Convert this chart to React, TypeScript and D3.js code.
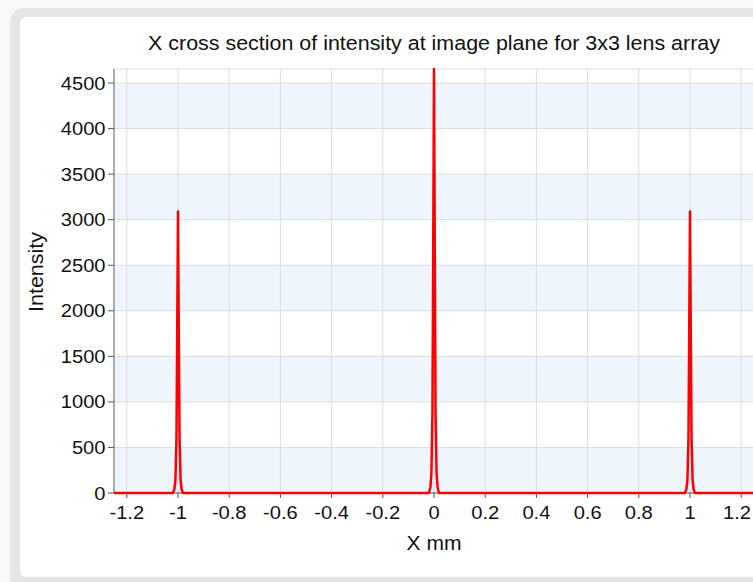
import React from 'react';
import * as d3 from 'd3';

// sampled cross section (mm, intensity)
const profileX = [
  -1.25, -1.02, -1.014, -1.01, -1.006, -1.003, -1.0, -0.997, -0.994, -0.99, -0.986, -0.98,
  -0.02, -0.014, -0.01, -0.006, -0.003, 0.0, 0.003, 0.006, 0.01, 0.014, 0.02,
  0.98, 0.986, 0.99, 0.994, 0.997, 1.0, 1.003, 1.006, 1.01, 1.014, 1.02, 1.25,
];
const profileY = [
  0, 0, 40, 150, 600, 1800, 3090, 1800, 600, 150, 40, 0,
  0, 60, 225, 900, 2700, 4654, 2700, 900, 225, 60, 0,
  0, 40, 150, 600, 1800, 3090, 1800, 600, 150, 40, 0, 0,
];

const xTickValues = [-1.2, -1, -0.8, -0.6, -0.4, -0.2, 0, 0.2, 0.4, 0.6, 0.8, 1, 1.2];
const yTickValues = [0, 500, 1000, 1500, 2000, 2500, 3000, 3500, 4000, 4500];
const xDomain = [-1.25, 1.25];
const yDomain = [0, 4654];

const titleText = 'X cross section of intensity at image plane for 3x3 lens array';
const xLabel = 'X mm';
const yLabel = 'Intensity';

const W = 753;
const H = 582;
const left = 114, right = 754, top = 69, bottom = 493;
const font = '"Liberation Sans", Arial, Helvetica, sans-serif';

export default function App() {
  const x = d3.scaleLinear().domain(xDomain).range([left, right]);
  const y = d3.scaleLinear().domain(yDomain).range([bottom, top]);
  const fmt = (v: number) => d3.format('')(v).replace('\u2212', '-');

  const line = d3.line<number>()
    .x((_, i) => x(profileX[i]))
    .y((d) => y(d));

  // alternating bands between ticks
  const bands = yTickValues.slice(0, -1).map((v, i) => ({ lo: v, hi: yTickValues[i + 1], on: i % 2 === 0 }));

  return (
    <div style={{ position: 'fixed', left: 0, top: 0 }}>
      <svg width={W} height={H} style={{ display: 'block', background: '#f7f7f7' }}>
        <rect x={10} y={8} width={780} height={600} rx={14} fill="#e5e5e5" />
        <rect x={20} y={17} width={770} height={560} rx={6} fill="#ffffff" />

        {bands.filter((b) => b.on).map((b) => (
          <rect key={b.lo} x={left} y={y(b.hi)} width={right - left} height={y(b.lo) - y(b.hi)} fill="#eef5fd" />
        ))}

        {/* grid */}
        {xTickValues.map((v) => (
          <line key={'gx' + v} x1={x(v)} x2={x(v)} y1={top} y2={bottom} stroke="#dddddd" strokeWidth={1} />
        ))}
        {yTickValues.map((v) => (
          <line key={'gy' + v} x1={left} x2={right} y1={y(v)} y2={y(v)} stroke="#dddddd" strokeWidth={1} />
        ))}
        <line x1={left} x2={right} y1={top} y2={top} stroke="#dddddd" strokeWidth={1} />

        {/* axes */}
        <line x1={left} x2={left} y1={top} y2={bottom} stroke="#777777" strokeWidth={1.2} />
        <line x1={left} x2={right} y1={bottom} y2={bottom} stroke="#555555" strokeWidth={1.2} />

        {xTickValues.map((v) => (
          <g key={'tx' + v}>
            <line x1={x(v)} x2={x(v)} y1={bottom} y2={bottom + 5} stroke="#555555" />
            <text
              transform={`translate(${Math.min(x(v), 737)},519) scale(1.15,1)`}
              textAnchor="middle"
              fontFamily={font}
              fontSize={17.5}
              fill="#111"
            >
              {fmt(v)}
            </text>
          </g>
        ))}
        {yTickValues.map((v) => (
          <g key={'ty' + v}>
            <line x1={left - 6} x2={left} y1={y(v)} y2={y(v)} stroke="#555555" />
            <text
              transform={`translate(105.5,${y(v) + 6.5}) scale(1.15,1)`}
              textAnchor="end"
              fontFamily={font}
              fontSize={17.5}
              fill="#111"
            >
              {fmt(v)}
            </text>
          </g>
        ))}

        <path d={line(profileY) ?? ''} fill="none" stroke="#ff0000" strokeWidth={2.5} strokeLinejoin="round" />

        <text transform="translate(434,50) scale(1.1,1)" textAnchor="middle" fontFamily={font} fontSize={19.5} fill="#111">
          {titleText}
        </text>
        <text transform="translate(434,550) scale(1.08,1)" textAnchor="middle" fontFamily={font} fontSize={19.5} fill="#111">
          {xLabel}
        </text>
        <text transform="translate(43,272) rotate(-90) scale(1.1,1)" textAnchor="middle" fontFamily={font} fontSize={19.5} fill="#111">
          {yLabel}
        </text>
      </svg>
    </div>
  );
}
